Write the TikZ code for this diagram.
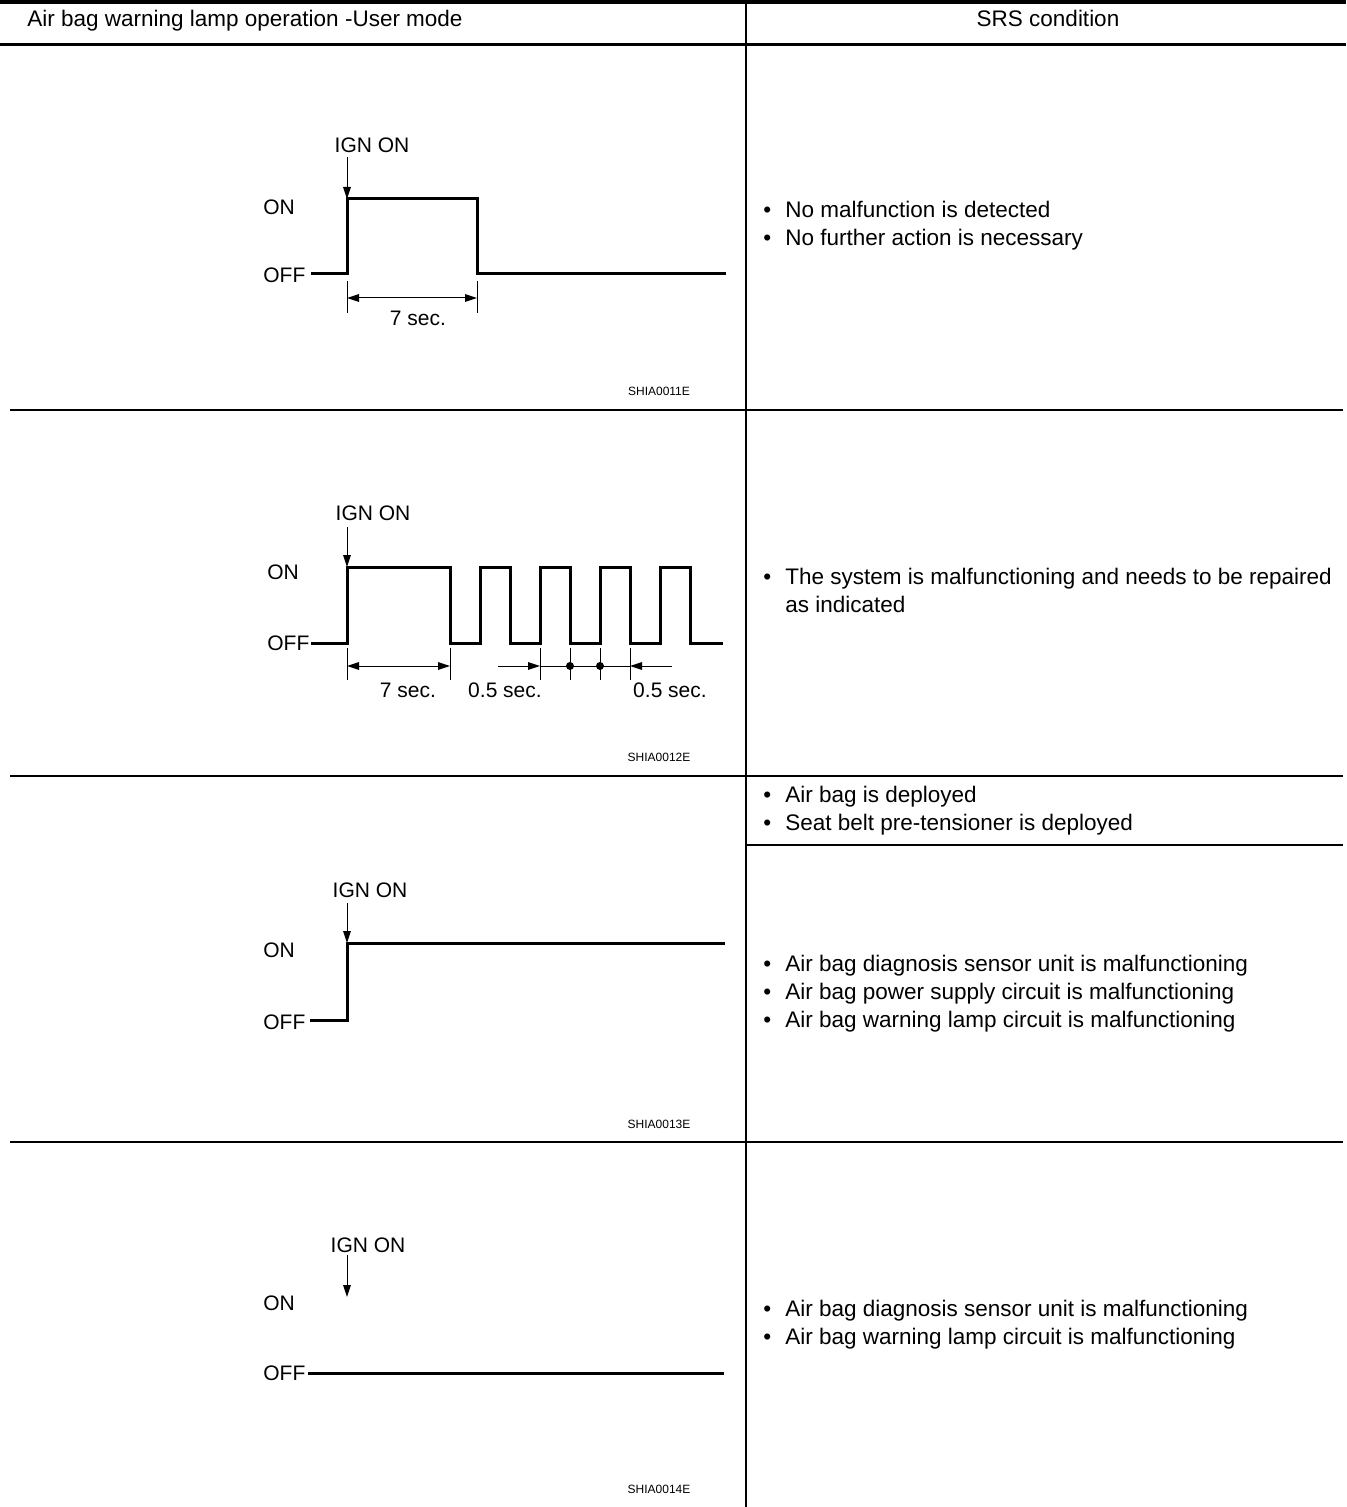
\documentclass[tikz,border=0pt]{standalone}
\usepackage{fontspec}
\setmainfont{Liberation Sans}
\usetikzlibrary{arrows.meta, positioning}
\newcommand{\condlist}[1]{\begin{tabular}[t]{@{}l@{\hspace{7pt}}l@{}}#1\end{tabular}}

\begin{document}
\begin{tikzpicture}[x=0.5pt, y=-0.5pt,
		grid/.style={line width=0.75pt},
		signal/.style={line width=1.5pt},
		dimline/.style={line width=0.5pt},
		dimarrow/.style={line width=0.5pt, -{Triangle[length=6pt, width=3.8pt]}},
		dimboth/.style={line width=0.5pt, {Triangle[length=6pt, width=3.8pt]}-{Triangle[length=6pt, width=3.8pt]}},
		ignarrow/.style={line width=0.5pt, -{Triangle[length=6pt, width=3.8pt]}},
		lvl/.style={inner sep=0pt, anchor=west, font=\fontsize{10.5}{12}\selectfont},
		ign/.style={inner sep=0pt, font=\fontsize{10.5}{12}\selectfont},
		figcode/.style={inner sep=0pt, font=\fontsize{6}{7}\selectfont},
		cond/.style={inner sep=0pt, anchor=base west, font=\fontsize{11.25}{14}\selectfont},
		head/.style={inner sep=0pt, font=\fontsize{11.25}{13}\selectfont}]
		\useasboundingbox (0,0) rectangle (1346,1507);

		% Table frame
		\draw[line width=2pt] (0,2) -- (1346,2); % Top rule
		\draw[line width=1.5pt] (0,44.5) -- (1346,44.5); % Header rule
		\draw[grid] (746,0) -- (746,1507); % Column divider
		\draw[grid] (10,410) -- (1343,410);
		\draw[grid] (10,776) -- (1343,776);
		\draw[grid] (10,1142) -- (1343,1142);
		\draw[grid] (746,845) -- (1343,845);

		% Header
		\node[head, anchor=base west] (headlamp) at (27,27) {Air bag warning lamp operation -User mode};
		\node[head, anchor=base] (headsrs) at (1048,27) {SRS condition};

		% Row 1: lamp on for 7 sec, then off
		\node[ign] (ign1) at (372,145) {IGN ON};
		\node[lvl] (on1) at (263,207) {ON};
		\node[lvl] (off1) at (263,275) {OFF};
		\coordinate (up1) at (347,157);
		\coordinate (rise1) at (347,199);
		\draw[signal] (311,274) -- (347,274) -- (rise1) -- (477,199) -- (477,274) -- (726,274);
		\draw[ignarrow] (up1) -- (rise1);
		\draw[dimline] (347,281) -- (347,313) (477,281) -- (477,313);
		\draw[dimboth] (347,298) -- (477,298);
		\node[ign] (sec1) at (418,318) {7 sec.};
		\node[figcode] (fig1) at (659,391) {SHIA0011E};
		\node[cond] (cond1) at (763,218) {\condlist{\textbullet & No malfunction is detected\\ \textbullet & No further action is necessary}};

		% Row 2: lamp blinks after 7 sec
		\node[ign] (ign2) at (373,513) {IGN ON};
		\node[lvl] (on2) at (267,572) {ON};
		\node[lvl] (off2) at (267,643) {OFF};
		\coordinate (up2) at (347,527);
		\coordinate (rise2) at (347,567);
		\draw[signal] (311,643) -- (347,643) -- (rise2) -- (450,567) -- (450,643)
			\foreach \p in {480,540,600,660} { -- (\p,643) -- (\p,567) -- (\p+30,567) -- (\p+30,643) } -- (723,643);
		\draw[ignarrow] (up2) -- (rise2);
		\foreach \t in {347,450,540,570,600,630}
			\draw[dimline] (\t,648) -- (\t,680);
		\draw[dimboth] (347,666) -- (450,666);
		\draw[dimarrow] (498,666) -- (540,666);
		\draw[dimline] (540,666) -- (630,666);
		\fill (570,666) circle (2pt) (600,666) circle (2pt);
		\draw[dimarrow] (672,666) -- (630,666);
		\node[ign] (sec2) at (408,690) {7 sec.};
		\node[ign] (half2a) at (505,690) {0.5 sec.};
		\node[ign] (half2b) at (670,690) {0.5 sec.};
		\node[figcode] (fig2) at (659,757) {SHIA0012E};
		\node[cond] (cond2) at (763,584) {\condlist{\textbullet & The system is malfunctioning and needs to be repaired\\ & as indicated}};

		% Row 3: lamp stays on
		\node[ign] (ign3) at (370,890) {IGN ON};
		\node[lvl] (on3) at (263,950) {ON};
		\node[lvl] (off3) at (263,1022) {OFF};
		\coordinate (up3) at (347,903);
		\coordinate (rise3) at (347,943);
		\draw[signal] (310,1020) -- (347,1020) -- (rise3) -- (725,943);
		\draw[ignarrow] (up3) -- (rise3);
		\node[figcode] (fig3) at (659,1124) {SHIA0013E};
		\node[cond] (cond3a) at (763,802) {\condlist{\textbullet & Air bag is deployed\\ \textbullet & Seat belt pre-tensioner is deployed}};
		\node[cond] (cond3b) at (763,971) {\condlist{\textbullet & Air bag diagnosis sensor unit is malfunctioning\\ \textbullet & Air bag power supply circuit is malfunctioning\\ \textbullet & Air bag warning lamp circuit is malfunctioning}};

		% Row 4: lamp stays off
		\node[ign] (ign4) at (368,1245) {IGN ON};
		\node[lvl] (on4) at (263,1303) {ON};
		\node[lvl] (off4) at (263,1373) {OFF};
		\coordinate (up4) at (347,1255);
		\coordinate (tip4) at (347,1297);
		\draw[signal] (308,1373) -- (724,1373);
		\draw[ignarrow] (up4) -- (tip4);
		\node[figcode] (fig4) at (659,1489) {SHIA0014E};
		\node[cond] (cond4) at (763,1316) {\condlist{\textbullet & Air bag diagnosis sensor unit is malfunctioning\\ \textbullet & Air bag warning lamp circuit is malfunctioning}};
	\end{tikzpicture}
\end{document}
